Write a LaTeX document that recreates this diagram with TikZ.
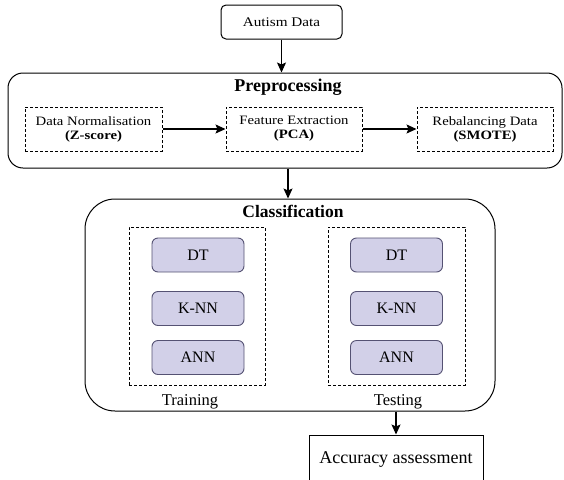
\documentclass[tikz,border=0pt]{standalone}
\usepackage{fontspec}
\setmainfont{Liberation Serif}
\newfontfamily\widefont[FakeStretch=1.15]{Liberation Serif}
\usetikzlibrary{arrows.meta}
\definecolor{lav}{RGB}{210,208,232}
\definecolor{lavline}{RGB}{85,82,115}
\begin{document}
\begin{tikzpicture}[x=1pt,y=-1pt,
  box/.style={draw, line width=1pt, inner sep=0pt, align=center},
  rbox/.style={box, rounded corners=5pt},
  dbox/.style={box, dash pattern=on 3pt off 2pt},
  algo/.style={draw=lavline, fill=lav, line width=0.9pt, rounded corners=6pt, minimum width=92pt, minimum height=34pt, inner sep=0pt, font=\fontsize{16}{18}\selectfont},
  ttl/.style={font=\bfseries\fontsize{18}{20}\selectfont, inner sep=0pt},
  lbl/.style={font=\fontsize{16.5}{18}\selectfont, inner sep=0pt},
  arr/.style={-{Stealth[length=10pt,width=9pt,inset=2pt]}, line width=1.2pt}]
\clip (0,0) rectangle (564,479);
\fill[white] (0,0) rectangle (564,479);

\node[rbox, minimum width=121pt, minimum height=34pt, font=\widefont\fontsize{13.2}{15}\selectfont] (autism) at (281.5,22) {Autism Data};

\node[box, rounded corners=15pt, minimum width=554pt, minimum height=95pt] (pre) at (285,120.5) {};
\node[ttl] (pretitle) at (288,87) {Preprocessing};
\node[dbox, minimum width=137pt, minimum height=44pt, font=\widefont\fontsize{12.8}{14}\selectfont] (d1) at (93.5,129) {Data Normalisation\\\textbf{(Z-score)}};
\node[dbox, minimum width=136pt, minimum height=44pt, font=\widefont\fontsize{12.8}{14}\selectfont] (d2) at (294,129) {Feature Extraction\\\textbf{(PCA)}};
\node[dbox, minimum width=136pt, minimum height=44pt, font=\widefont\fontsize{12.8}{14}\selectfont] (d3) at (485,129) {Rebalancing Data\\\textbf{(SMOTE)}};

\node[box, rounded corners=30pt, minimum width=410pt, minimum height=212pt] (class) at (290,305) {};
\node[ttl, font=\bfseries\fontsize{17.5}{20}\selectfont] (classtitle) at (293,211) {Classification};
\node[dbox, minimum width=136pt, minimum height=158pt] (train) at (197,306) {};
\node[dbox, minimum width=137pt, minimum height=158pt] (test) at (396.5,306) {};
\node[algo] (tdt) at (198,255) {DT};
\node[algo] (tknn) at (198,308.5) {K-NN};
\node[algo] (tann) at (198,357.5) {ANN};
\node[algo] (sdt) at (396.5,255) {DT};
\node[algo] (sknn) at (396.5,308.5) {K-NN};
\node[algo] (sann) at (396.5,357.5) {ANN};
\node[lbl] (trainlbl) at (190,402) {Training};
\node[lbl] (testlbl) at (398,402) {Testing};

\node[box, minimum width=174pt, minimum height=48pt, font=\fontsize{18}{20}\selectfont] (acc) at (396,459) {Accuracy assessment};

\draw[arr] (autism.south) -- (autism.south |- pre.north);
\draw[arr] (d1.east) -- (d2.west);
\draw[arr] (d2.east) -- (d3.west);
\draw[arr] ([xshift=3pt]pre.south) -- ([xshift=3pt]pre.south |- class.north);
\draw[arr] (class.south -| acc.north) -- (acc.north);
\end{tikzpicture}
\end{document}
